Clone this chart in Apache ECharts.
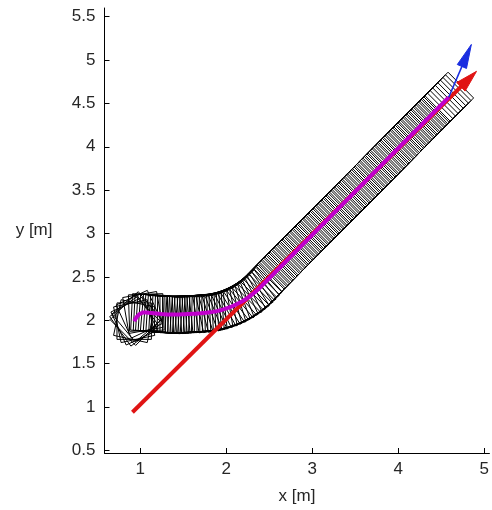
<!DOCTYPE html>
<html>
<head>
<meta charset="utf-8">
<script src="https://cdn.jsdelivr.net/npm/echarts@6/dist/echarts.min.js"></script>
<style>
html,body{margin:0;padding:0;background:#fff;}
#chart{width:492px;height:510px;}
</style>
</head>
<body>
<div id="chart"></div>
<script>
// ---- data ----
var xTicks = [1, 2, 3, 4, 5];
var yTicks = [0.5, 1, 1.5, 2, 2.5, 3, 3.5, 4, 4.5, 5, 5.5];

// robot poses (centre x, centre y, heading in degrees)
var poseX = [
  0.93,0.93,0.93,0.93,0.93,0.94,0.96,0.99,1.03,1.07,
  1.10,1.13,1.16,1.19,1.22,1.25,1.28,1.31,1.34,1.37,1.40,1.43,
  1.46,1.49,1.52,1.55,1.58,1.61,1.64,1.67,1.70,1.73,1.76,1.79,
  1.845,1.889,1.933,1.976,2.019,2.061,2.102,2.142,2.182,2.220,2.258,2.294,2.330,2.363,2.396,
  2.426,2.456,2.486,2.516,2.546,2.576,2.606,2.636,2.666,2.696,
  2.726,2.756,2.786,2.816,2.846,2.876,2.906,2.936,2.966,2.996,
  3.026,3.056,3.086,3.116,3.146,3.176,3.206,3.236,3.266,3.296,
  3.326,3.356,3.386,3.416,3.446,3.476,3.506,3.536,3.566,3.596,
  3.626,3.656,3.686,3.716,3.746,3.776,3.806,3.836,3.866,3.896,
  3.926,3.956,3.986,4.016,4.046,4.076,4.106,4.136,4.166,4.196,
  4.226,4.256,4.286,4.316,4.346,4.376,4.406,4.436,4.466,4.496,
  4.526,4.556,4.586
];
var poseY = [
  1.99,1.99,1.99,1.99,1.99,2.00,2.04,2.07,2.09,2.09,
  2.086,2.083,2.080,2.077,2.074,2.071,2.069,2.067,2.066,2.066,2.066,2.067,
  2.068,2.069,2.070,2.071,2.072,2.074,2.076,2.078,2.080,2.083,2.086,2.090,
  2.097,2.105,2.115,2.128,2.142,2.158,2.176,2.196,2.217,2.240,2.265,2.292,2.320,2.349,2.380,
  2.410,2.440,2.470,2.500,2.530,2.560,2.590,2.620,2.650,2.680,
  2.710,2.740,2.770,2.800,2.830,2.860,2.890,2.920,2.950,2.980,
  3.010,3.040,3.070,3.100,3.130,3.160,3.190,3.220,3.250,3.280,
  3.310,3.340,3.370,3.400,3.430,3.460,3.490,3.520,3.550,3.580,
  3.610,3.640,3.670,3.700,3.730,3.760,3.790,3.820,3.850,3.880,
  3.910,3.940,3.970,4.000,4.030,4.060,4.090,4.120,4.150,4.180,
  4.210,4.240,4.270,4.300,4.330,4.360,4.390,4.420,4.450,4.480,
  4.510,4.540,4.570
];
var poseTh = [
  -12,0,12,25,36,45,40,25,10,2,
  -3,-3,-4,-4,-5,-4,-4,-3,-2,-2,-1,0,
  0,1,1,2,2,3,3,3,4,4,5,6,
  10,12,15,17,20,22,25,27,30,32,35,37,40,42,45,
  45,45,45,45,45,45,45,45,45,45,
  45,45,45,45,45,45,45,45,45,45,
  45,45,45,45,45,45,45,45,45,45,
  45,45,45,45,45,45,45,45,45,45,
  45,45,45,45,45,45,45,45,45,45,
  45,45,45,45,45,45,45,45,45,45,
  45,45,45,45,45,45,45,45,45,45,
  45,45,45
];

// reference line (red arrow) and final direction (blue arrow): start and tip
var redX = [0.91, 4.91];
var redY = [0.94, 4.87];
var blueX = [4.586, 4.85];
var blueY = [4.57, 5.18];

// ---- chart ----
var ROBOT_L = 0.40, ROBOT_W = 0.42;

var poses = poseX.map(function (x, i) { return [x, poseY[i], poseTh[i]]; });
var path = [];
poseX.forEach(function (x, i) {
  var last = path[path.length - 1];
  if (!last || last[0] !== x || last[1] !== poseY[i]) path.push([x, poseY[i]]);
});

function boxItem(params, api) {
  var cx = api.value(0), cy = api.value(1), th = api.value(2) * Math.PI / 180;
  var c = Math.cos(th), s = Math.sin(th);
  var hl = ROBOT_L / 2, hw = ROBOT_W / 2;
  var corners = [[hl, hw], [-hl, hw], [-hl, -hw], [hl, -hw]].map(function (p) {
    return api.coord([cx + p[0] * c - p[1] * s, cy + p[0] * s + p[1] * c]);
  });
  return {
    type: 'polygon',
    shape: { points: corners },
    style: { fill: 'none', stroke: '#000', lineWidth: 1 }
  };
}

function arrowRenderer(color, width, headLen, headHalf) {
  return function (params, api) {
    var p0 = api.coord([api.value(0), api.value(1)]);
    var p1 = api.coord([api.value(2), api.value(3)]);
    var dx = p1[0] - p0[0], dy = p1[1] - p0[1];
    var len = Math.sqrt(dx * dx + dy * dy);
    var ux = dx / len, uy = dy / len;
    var bx = p1[0] - ux * headLen, by = p1[1] - uy * headLen;
    var nx = -uy, ny = ux;
    return {
      type: 'group',
      children: [
        { type: 'line', shape: { x1: p0[0], y1: p0[1], x2: bx + ux * 2, y2: by + uy * 2 },
          style: { stroke: color, lineWidth: width } },
        { type: 'polygon', shape: { points: [[p1[0], p1[1]], [bx + nx * headHalf, by + ny * headHalf], [bx - nx * headHalf, by - ny * headHalf]] },
          style: { fill: color, stroke: color, lineWidth: 1 } }
      ]
    };
  };
}

var axisText = { color: '#262626', fontFamily: 'Liberation Sans, Arial, sans-serif', fontSize: 17 };

var chart = echarts.init(document.getElementById('chart'), null, { renderer: 'canvas' });
chart.setOption({
  backgroundColor: '#fff',
  animation: false,
  grid: { left: 104.5, right: 2, top: 8, bottom: 56 },
  xAxis: {
    type: 'value', min: 0.585, max: 5.06,
    name: 'x [m]', nameLocation: 'middle', nameGap: 35,
    nameTextStyle: axisText,
    axisLine: { onZero: false, lineStyle: { color: '#000', width: 1 } },
    axisTick: { inside: true, length: 5, customValues: xTicks, lineStyle: { color: '#000' } },
    axisLabel: { customValues: xTicks, margin: 8, color: axisText.color, fontFamily: axisText.fontFamily, fontSize: 17 },
    splitLine: { show: false }
  },
  yAxis: {
    type: 'value', min: 0.47, max: 5.6,
    name: 'y [m]', nameLocation: 'middle', nameGap: 52, nameRotate: 0,
    nameTextStyle: axisText,
    axisLine: { onZero: false, lineStyle: { color: '#000', width: 1 } },
    axisTick: { inside: true, length: 5, customValues: yTicks, lineStyle: { color: '#000' } },
    axisLabel: { customValues: yTicks, margin: 9, color: axisText.color, fontFamily: axisText.fontFamily, fontSize: 17 },
    splitLine: { show: false }
  },
  series: [
    { type: 'custom', name: 'robot', data: poses, renderItem: boxItem, encode: { x: 0, y: 1 }, z: 1, silent: true },
    { type: 'custom', name: 'reference', data: [[redX[0], redY[0], redX[1], redY[1]]],
      renderItem: arrowRenderer('#e01414', 4, 22, 6), encode: { x: [0, 2], y: [1, 3] }, z: 2, silent: true },
    { type: 'line', name: 'path', data: path, showSymbol: false, lineStyle: { color: '#c000cc', width: 4 }, z: 3, silent: true },
    { type: 'custom', name: 'heading', data: [[blueX[0], blueY[0], blueX[1], blueY[1]]],
      renderItem: arrowRenderer('#1a2ee0', 1.5, 24, 5), encode: { x: [0, 2], y: [1, 3] }, z: 4, silent: true }
  ]
});
</script>
</body>
</html>
